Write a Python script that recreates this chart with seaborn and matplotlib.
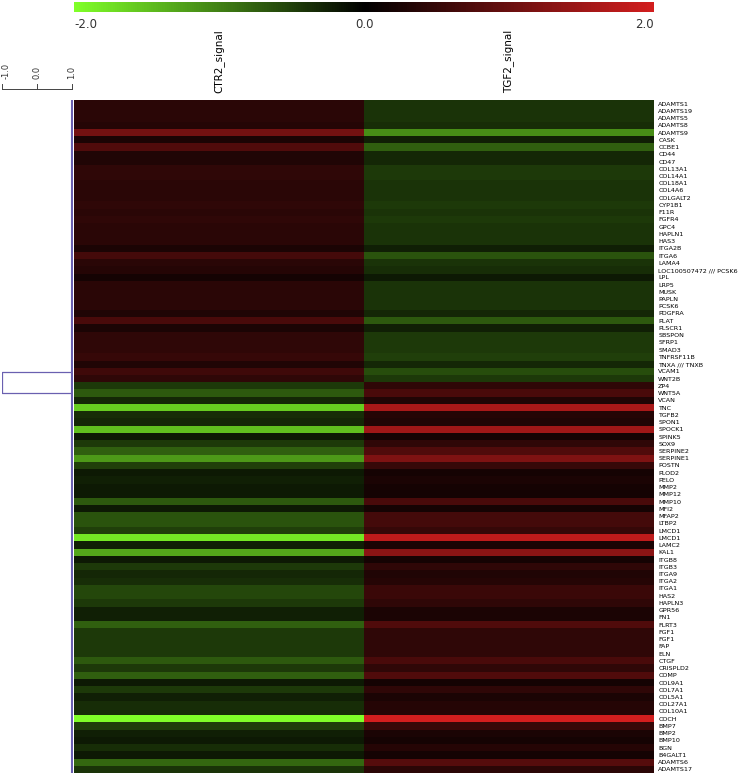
import numpy as np
import pandas as pd
import matplotlib
matplotlib.use("Agg")
import matplotlib.pyplot as plt
from matplotlib.colors import LinearSegmentedColormap
import seaborn as sns

# gene order as in the clustered heatmap (top to bottom)
genes = ["ADAMTS1", "ADAMTS19", "ADAMTS5", "ADAMTS8", "ADAMTS9", "CASK", "CCBE1", "CD44",
         "CD47", "COL13A1", "COL14A1", "COL18A1", "COL4A6", "COLGALT2", "CYP1B1", "F11R",
         "FGFR4", "GPC4", "HAPLN1", "HAS3", "ITGA2B", "ITGA6", "LAMA4",
         "LOC100507472 /// PCSK6", "LPL", "LRP5", "MUSK", "PAPLN", "PCSK6", "PDGFRA", "PLAT",
         "PLSCR1", "SBSPON", "SFRP1", "SMAD3", "TNFRSF11B", "TNXA /// TNXB", "VCAM1", "WNT2B",
         "ZP4", "WNT5A", "VCAN", "TNC", "TGFB2", "SPON1", "SPOCK1", "SPINK5", "SOX9",
         "SERPINE2", "SERPINE1", "POSTN", "PLOD2", "PELO", "MMP2", "MMP12", "MMP10", "MFI2",
         "MFAP2", "LTBP2", "LMCD1", "LMCD1", "LAMC2", "KAL1", "ITGB8", "ITGB3", "ITGA9",
         "ITGA2", "ITGA1", "HAS2", "HAPLN3", "GPR56", "FN1", "FLRT3", "FGF1", "FGF1", "FAP",
         "ELN", "CTGF", "CRISPLD2", "COMP", "COL9A1", "COL7A1", "COL5A1", "COL27A1", "COL10A1",
         "COCH", "BMP7", "BMP2", "BMP10", "BGN", "B4GALT1", "ADAMTS6", "ADAMTS17"]

samples = ["CTR2_signal", "TGF2_signal"]

# centred log signal of CTR2 (TGF2 is the mirror image)
ctr2 = [0.4, 0.4, 0.4, 0.35, 1.1, 0.25, 0.75, 0.3, 0.3, 0.45, 0.45, 0.4, 0.4, 0.4, 0.45,
        0.4, 0.45, 0.4, 0.4, 0.4, 0.25, 0.65, 0.4, 0.35, 0.2, 0.4, 0.4, 0.4, 0.4, 0.3, 0.7,
        0.25, 0.45, 0.45, 0.45, 0.5, 0.3, 0.6, 0.45,
        -0.45, -0.7, -0.3, -1.6, -0.35, -0.3, -1.5, -0.2, -0.45, -0.75, -1.2, -0.5, -0.2,
        -0.25, -0.2, -0.2, -0.7, -0.2, -0.65, -0.65, -0.5, -1.8, -0.25, -1.3, -0.2, -0.45,
        -0.3, -0.35, -0.55, -0.55, -0.45, -0.25, -0.25, -0.75, -0.45, -0.45, -0.45, -0.45,
        -0.7, -0.45, -0.75, -0.2, -0.45, -0.25, -0.35, -0.35, -2.0, -0.5, -0.25, -0.2,
        -0.35, -0.2, -0.8, -0.4]
tgf2 = [-v for v in ctr2]

df = pd.DataFrame({"CTR2_signal": ctr2, "TGF2_signal": tgf2})

cmap = LinearSegmentedColormap.from_list("gkr", ["#80ff28", "#000000", "#d21e1e"])
font = ["Liberation Sans Narrow", "DejaVu Sans"]
dcol = "#6a60b0"

W, H = 742, 775
fig = plt.figure(figsize=(W / 100, H / 100), dpi=100)

def box(x0, y0, x1, y1):
    return [x0 / W, 1 - y1 / H, (x1 - x0) / W, (y1 - y0) / H]

ax = fig.add_axes(box(74, 100, 654, 773))
cax = fig.add_axes(box(74, 2, 654, 12))
dax = fig.add_axes(box(2, 100, 73, 773))
sax = fig.add_axes(box(2, 60, 73, 92))

sns.heatmap(df, ax=ax, cmap=cmap, vmin=-2, vmax=2, cbar_ax=cax,
            cbar_kws={"orientation": "horizontal"}, xticklabels=samples,
            yticklabels=genes)

ax.yaxis.tick_right()
ax.set_yticks(np.arange(len(genes)) + 0.5)
ax.set_yticklabels(genes, rotation=0, fontsize=4.6, family=font)
ax.xaxis.tick_top()
ax.set_xticklabels(samples, rotation=90, fontsize=7.5, family=font)
ax.tick_params(length=0, pad=3)
ax.tick_params(axis="x", pad=5)

cax.set_xticks([-2, 0, 2])
cax.set_xticklabels(["-2.0", "0.0", "2.0"], fontsize=8.5, family=font, color="#333333")
cax.tick_params(length=0, pad=4)
cax.get_xticklabels()[0].set_ha("left")
cax.get_xticklabels()[2].set_ha("right")
for s in cax.spines.values():
    s.set_visible(False)

# dendrogram: two tight clusters joined at correlation -1
n = len(genes)
dax.set_xlim(-1.0, 1.03)
dax.set_ylim(n, 0)
dax.plot([1.0, 1.0], [0, n], color=dcol, lw=1.5)
dax.plot([1.0, -1.0, -1.0, 1.0], [37.6, 37.6, 40.5, 40.5], color=dcol, lw=0.9)
dax.axis("off")

# distance scale
sax.set_xlim(-1.0, 1.03)
sax.set_ylim(0, 1)
sax.plot([-1, 1], [0.1, 0.1], color="#444444", lw=0.7)
for t in [-1.0, 0.0, 1.0]:
    sax.plot([t, t], [0.1, 0.25], color="#444444", lw=0.7)
    sax.text(max(t, -0.88), 0.4, f"{t:.1f}", rotation=90, ha="center", va="bottom",
             fontsize=6, family=font, color="#333333")
sax.axis("off")

fig.savefig("out.png", dpi=100)
